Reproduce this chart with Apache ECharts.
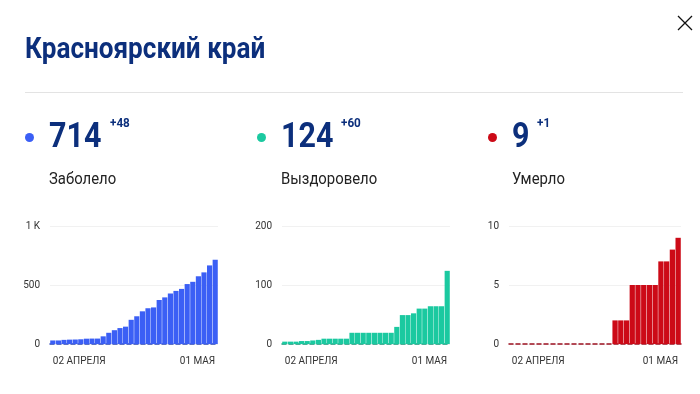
<!DOCTYPE html>
<html>
<head>
<meta charset="utf-8">
<script src="https://cdn.jsdelivr.net/npm/echarts@6/dist/echarts.min.js"></script>
<style>
  html, body { margin: 0; padding: 0; background: #fff; }
  #wrap { position: relative; width: 700px; height: 394px; overflow: hidden; }
  #main { position: absolute; left: 0; top: 0; width: 700px; height: 394px; }
  .t { position: absolute; white-space: nowrap; color: #0c2f7c; font-family: 'Roboto', sans-serif;
       line-height: 1; transform-origin: 0 0; }
  .title { left: 25px; top: 34px; font-size: 29px; font-weight: bold; transform: scaleX(0.9); }
  .num { font-size: 35px; font-weight: bold; top: 118px; transform: scaleX(0.87); }
  .inc { font-size: 13px; font-weight: bold; top: 116px; transform: scaleX(0.9); }
  .lbl { font-size: 16px; top: 171px; color: #222; transform: scaleX(0.93); }
  .dot { position: absolute; width: 9px; height: 9px; border-radius: 50%; top: 133px; }
  .sep { position: absolute; left: 25px; top: 92px; width: 658px; height: 1px; background: #e3e3e3; }
  .close { position: absolute; left: 677px; top: 15px; width: 16px; height: 16px; }
</style>
</head>
<body>
<div id="wrap">
  <div id="main"></div>
  <div class="t title">Красноярский край</div>
  <div class="sep"></div>
  <svg class="close" viewBox="0 0 16 16"><path d="M1 1 L15 15 M15 1 L1 15" stroke="#111" stroke-width="1.3"/></svg>

  <div class="dot" style="left:25px;background:#3b5ff5"></div>
  <div class="t num" style="left:49px">714</div>
  <div class="t inc" style="left:110px">+48</div>
  <div class="t lbl" style="left:49px">Заболело</div>

  <div class="dot" style="left:257px;background:#1bc9a0"></div>
  <div class="t num" style="left:281px">124</div>
  <div class="t inc" style="left:341px">+60</div>
  <div class="t lbl" style="left:281px">Выздоровело</div>

  <div class="dot" style="left:488px;background:#cc0a17"></div>
  <div class="t num" style="left:512px">9</div>
  <div class="t inc" style="left:537px">+1</div>
  <div class="t lbl" style="left:512px">Умерло</div>
</div>
<script>
const days = ['02 АПРЕЛЯ', '03 АПРЕЛЯ', '04 АПРЕЛЯ', '05 АПРЕЛЯ', '06 АПРЕЛЯ', '07 АПРЕЛЯ',
  '08 АПРЕЛЯ', '09 АПРЕЛЯ', '10 АПРЕЛЯ', '11 АПРЕЛЯ', '12 АПРЕЛЯ', '13 АПРЕЛЯ',
  '14 АПРЕЛЯ', '15 АПРЕЛЯ', '16 АПРЕЛЯ', '17 АПРЕЛЯ', '18 АПРЕЛЯ', '19 АПРЕЛЯ',
  '20 АПРЕЛЯ', '21 АПРЕЛЯ', '22 АПРЕЛЯ', '23 АПРЕЛЯ', '24 АПРЕЛЯ', '25 АПРЕЛЯ',
  '26 АПРЕЛЯ', '27 АПРЕЛЯ', '28 АПРЕЛЯ', '29 АПРЕЛЯ', '30 АПРЕЛЯ', '01 МАЯ'];

const sick = [30, 30, 35, 37, 38, 40, 45, 46, 46, 65, 95, 117, 135, 147, 205,
  235, 277, 303, 310, 373, 395, 428, 450, 467, 508, 527, 574, 607, 666, 714];
const healed = [4, 4, 4, 5, 5, 6, 7, 9, 9, 9, 9, 9, 19, 19, 19,
  19, 19, 19, 19, 19, 29, 49, 49, 52, 60, 60, 64, 64, 64, 124];
const died = [0, 0, 0, 0, 0, 0, 0, 0, 0, 0, 0, 0, 0, 0, 0,
  0, 0, 0, 2, 2, 2, 5, 5, 5, 5, 5, 7, 7, 8, 9];

const panels = [
  { data: sick, color: '#3b5ff5', line: '#2a45b8', max: 1000, step: 500, left: 50, width: 168 },
  { data: healed, color: '#1bc9a0', line: '#14997a', max: 200, step: 100, left: 282, width: 168 },
  { data: died, color: '#cc0a17', line: '#9c1020', max: 10, step: 5, left: 509, width: 172 }
];

const chart = echarts.init(document.getElementById('main'));

const option = {
  animation: false,
  grid: panels.map(p => ({ left: p.left, width: p.width, top: 226, height: 118 })),
  xAxis: panels.map((p, i) => ({
    type: 'category',
    gridIndex: i,
    data: days,
    axisTick: { show: false },
    axisLine: { show: true, lineStyle: { color: p.line, type: [4, 3], width: 1.5 } },
    axisLabel: {
      interval: (idx) => idx === 0 || idx === days.length - 1,
      alignMinLabel: 'left',
      alignMaxLabel: 'right',
      color: '#333',
      fontSize: 10,
      fontFamily: 'Roboto',
      margin: 12
    }
  })),
  yAxis: panels.map((p, i) => ({
    type: 'value',
    gridIndex: i,
    min: 0,
    max: p.max,
    interval: p.step,
    axisLabel: {
      color: '#333',
      fontSize: 10,
      fontFamily: 'Roboto',
      margin: 10,
      formatter: v => (v === 1000 ? '1 K' : v)
    },
    splitLine: { lineStyle: { color: '#f1f1f1' } }
  })),
  series: panels.map((p, i) => ({
    type: 'bar',
    xAxisIndex: i,
    yAxisIndex: i,
    data: p.data,
    barCategoryGap: '8%',
    itemStyle: { color: p.color }
  }))
};

chart.setOption(option);
</script>
</body>
</html>
